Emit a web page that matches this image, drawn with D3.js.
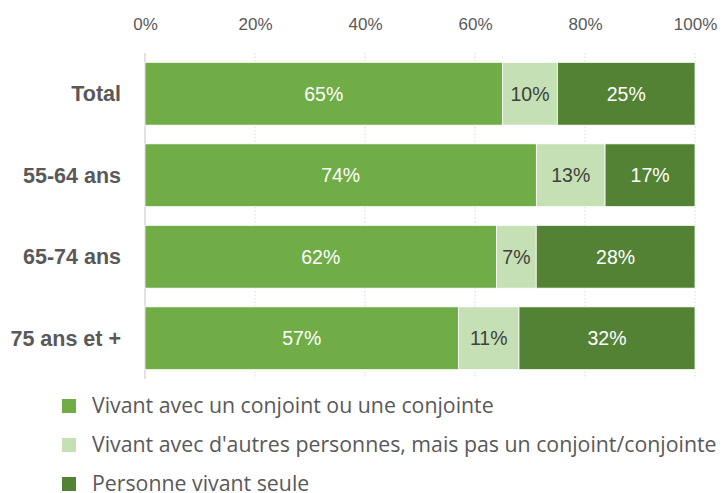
<!DOCTYPE html>
<html>
<head>
<meta charset="UTF-8" />
<title>Mode de vie</title>
<script src="https://cdn.jsdelivr.net/npm/d3@7"></script>
<style>
  body { margin: 0; background: #fff; }
  text { font-family: "Liberation Sans", Arial, sans-serif; }
</style>
</head>
<body>
<div id="chart"></div>
<script>
// categories and series (values as labelled, bars normalised to 100%)
var categories = ["Total", "55-64 ans", "65-74 ans", "75 ans et +"];
var conjoint = [65, 74, 62, 57];
var autres   = [10, 13, 7, 11];
var seule    = [25, 17, 28, 32];
var seriesNames = [
  "Vivant avec un conjoint ou une conjointe",
  "Vivant avec d'autres personnes, mais pas un conjoint/conjointe",
  "Personne vivant seule"
];
var seriesColors = ["#70ad47", "#c5e0b4", "#548235"];
var labelColors  = ["#ffffff", "#404040", "#ffffff"];
var ticks = [0, 0.2, 0.4, 0.6, 0.8, 1];

var W = 723, H = 493;
var svg = d3.select("#chart").append("svg")
  .attr("width", W)
  .attr("height", H);

var x = d3.scaleLinear().domain([0, 1]).range([145, 695]);
var y = d3.scaleBand().domain(categories).range([53, 379])
  .paddingInner(0.23).paddingOuter(0.115);

// gridlines
svg.selectAll(".grid").data(ticks.slice(1)).enter().append("line")
  .attr("x1", d => x(d)).attr("x2", d => x(d))
  .attr("y1", 53).attr("y2", 379)
  .attr("stroke", "#d9d9d9")
  .attr("stroke-dasharray", "1.5,2");
svg.append("line")
  .attr("x1", x(0)).attr("x2", x(0))
  .attr("y1", 53).attr("y2", 379)
  .attr("stroke", "#d9d9d9")
  .attr("stroke-width", 1.5);

// top axis
var xAxis = d3.axisTop(x).tickValues(ticks).tickFormat(d3.format(".0%")).tickSize(0);
var ax = svg.append("g").attr("transform", "translate(0,24.5)").call(xAxis);
ax.select(".domain").remove();
ax.selectAll("text")
  .attr("dy", "0.35em")
  .attr("y", 0)
  .style("font-size", "17px")
  .style("font-family", "'Liberation Sans', Arial, sans-serif")
  .attr("fill", "#595959");

// stacked rows
var rows = categories.map(function (c, i) {
  var vals = [conjoint[i], autres[i], seule[i]];
  var tot = d3.sum(vals);
  var acc = 0;
  return vals.map(function (v, k) {
    var s = { cat: c, k: k, v: v, x0: acc / tot, x1: (acc + v) / tot };
    acc += v;
    return s;
  });
});
var segs = rows.flat();

svg.selectAll(".seg").data(segs).enter().append("rect")
  .attr("x", d => x(d.x0))
  .attr("width", d => x(d.x1) - x(d.x0))
  .attr("y", d => y(d.cat))
  .attr("height", y.bandwidth())
  .attr("fill", d => seriesColors[d.k])
  .attr("stroke", "#ffffff")
  .attr("stroke-width", 0.75);

svg.selectAll(".lbl").data(segs).enter().append("text")
  .attr("x", d => (x(d.x0) + x(d.x1)) / 2)
  .attr("y", d => y(d.cat) + y.bandwidth() / 2)
  .attr("dy", "0.35em")
  .attr("text-anchor", "middle")
  .attr("fill", d => labelColors[d.k])
  .style("font-size", "19.5px")
  .text(d => d.v + "%");

// category labels
svg.selectAll(".cat").data(categories).enter().append("text")
  .attr("x", 121)
  .attr("y", d => y(d) + y.bandwidth() / 2)
  .attr("dy", "0.35em")
  .attr("text-anchor", "end")
  .attr("fill", "#595959")
  .style("font-size", "21.5px")
  .style("font-weight", "bold")
  .text(d => d);

// legend
var lg = svg.selectAll(".leg").data(seriesNames).enter().append("g")
  .attr("transform", (d, i) => "translate(62," + (406 + i * 39) + ")");
lg.append("rect")
  .attr("x", 0).attr("y", -7)
  .attr("width", 14).attr("height", 14)
  .attr("fill", (d, i) => seriesColors[i]);
lg.append("text")
  .attr("x", 30)
  .attr("dy", "0.35em")
  .attr("fill", "#595959")
  .style("font-family", "'Open Sans', 'Liberation Sans', sans-serif")
  .style("font-size", "21.3px")
  .text(d => d);
</script>
</body>
</html>
